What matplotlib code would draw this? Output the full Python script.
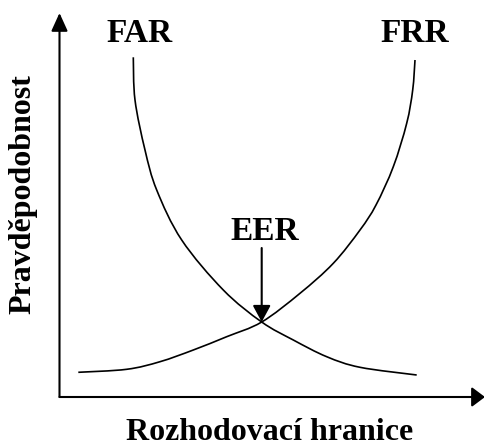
import numpy as np
import matplotlib
matplotlib.use("Agg")
import matplotlib.pyplot as plt
from matplotlib.path import Path
from matplotlib.patches import PathPatch, FancyArrowPatch

# Schematic values (chart units, origin at axes corner)
far_x = [73.8, 75.5, 85.5, 97.2, 122.2, 163.8, 202.2, 233.8, 267.2, 300.5, 357.2]
far_y = [339.7, 297.0, 247.0, 207.0, 157.0, 107.0, 75.0, 57.0, 40.3, 29.7, 22.0]
frr_x = [18.8, 67.2, 100.5, 133.8, 167.2, 202.2, 240.5, 273.8, 300.5, 316.5, 333.8, 347.2, 353.2, 355.5]
frr_y = [24.7, 27.7, 35.3, 47.0, 60.3, 75.0, 103.7, 133.7, 167.0, 192.0, 230.3, 273.7, 307.0, 337.0]
eer_point = (202.2, 75.0)
eer_arrow_top = 149.0
labels = {"FAR": (80, 363), "FRR": (355.5, 363), "EER": (205.5, 165)}
xlabel = "Rozhodovací hranice"
ylabel = "Pravděpodobnost"

fig = plt.figure(figsize=(4.85, 4.47), dpi=100)
ax = fig.add_axes([0, 0, 1, 1])
ax.set_xlim(-59.5, 425.5)
ax.set_ylim(-50, 397)
ax.axis("off")

def smooth(xs, ys):
    pts = np.column_stack([xs, ys])
    n = len(pts)
    verts = [pts[0]]
    codes = [Path.MOVETO]
    for i in range(n - 1):
        p0 = pts[max(i - 1, 0)]
        p3 = pts[min(i + 2, n - 1)]
        c1 = pts[i] + (pts[i + 1] - p0) / 6
        c2 = pts[i + 1] - (p3 - pts[i]) / 6
        verts += [c1, c2, pts[i + 1]]
        codes += [Path.CURVE4] * 3
    return Path(verts, codes)

for xs, ys in [(far_x, far_y), (frr_x, frr_y)]:
    ax.add_patch(PathPatch(smooth(xs, ys), fill=False, lw=1.2, ec="black"))

# axes arrows
ax.add_patch(FancyArrowPatch((0, 0), (0, 384), arrowstyle="-|>,head_length=11,head_width=5",
                             mutation_scale=1, lw=1.5, color="black", shrinkA=0, shrinkB=0))
ax.add_patch(FancyArrowPatch((0, 0), (425.5, 0), arrowstyle="-|>,head_length=8,head_width=6",
                             mutation_scale=1, lw=1.5, color="black", shrinkA=0, shrinkB=0))
# EER arrow
ax.add_patch(FancyArrowPatch((eer_point[0], eer_arrow_top), eer_point,
                             arrowstyle="-|>,head_length=10,head_width=5.4",
                             mutation_scale=1, lw=1.5, color="black", shrinkA=0, shrinkB=0))

font = dict(family="Liberation Serif", weight="bold", color="black")
for t, (x, y) in labels.items():
    ax.text(x, y, t, ha="center", va="center", fontsize=24, **font)
ax.text(210.5, -36, xlabel, ha="center", va="center", fontsize=23, **font)
ax.text(-36.5, 203, ylabel, ha="center", va="center", rotation=90, fontsize=23, **font)

fig.savefig("out.png", dpi=100)
